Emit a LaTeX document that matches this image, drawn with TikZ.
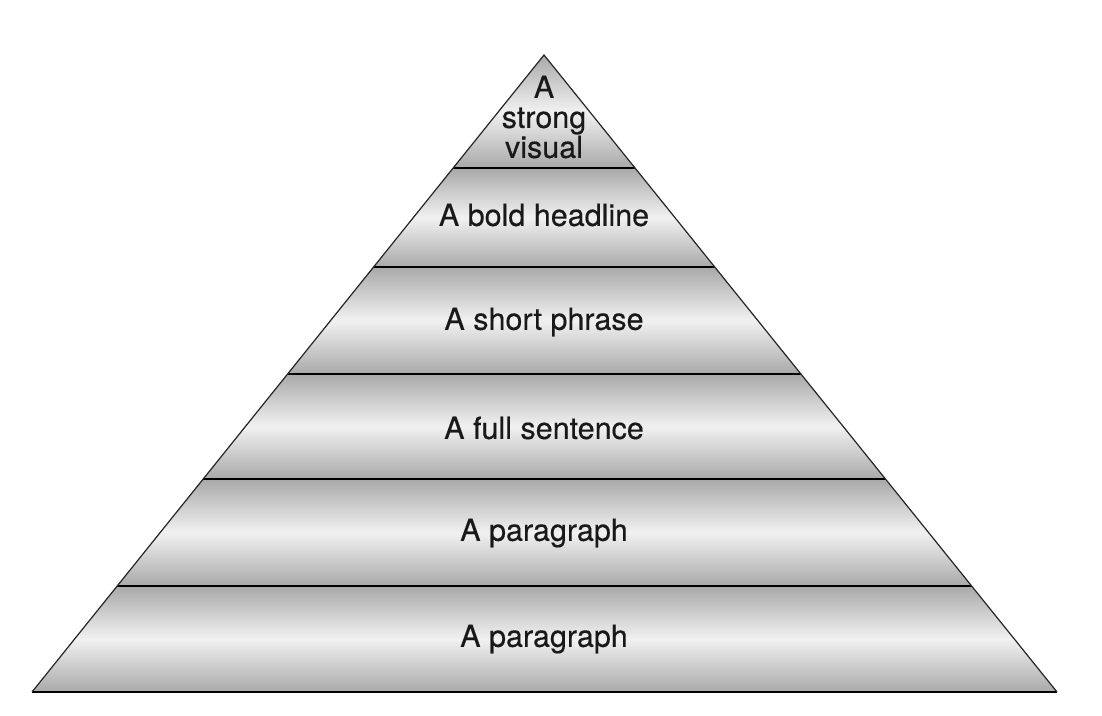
\documentclass[tikz,border=0pt]{standalone}
\usepackage{fontspec}
\setmainfont{TeX Gyre Heros}[FakeBold=0.35]
\usetikzlibrary{calc}
\definecolor{bandedge}{HTML}{A9A9A9}
\definecolor{bandmid}{HTML}{F1F1F1}
\tikzset{
  band/.style={top color=bandedge, bottom color=bandedge, middle color=bandmid, draw=none},
  sepline/.style={draw=black, line width=1.6pt},
  sideline/.style={draw=black!85, line width=1.2pt, line join=miter},
  lbl/.style={font=\fontsize{30.5}{31}\selectfont, text=black!90, align=center, inner sep=0pt}
}
\begin{document}
\begin{tikzpicture}[x=1pt,y=-1pt]
\useasboundingbox (0,0) rectangle (1102,715);
\coordinate (apex) at (544,55);
\coordinate (bl) at (32,692);
\coordinate (br) at (1057,692);
% band boundary points
\foreach \n/\t in {1/0.17739,2/0.33281,3/0.50078,4/0.66562,5/0.83359}{
  \coordinate (L\n) at ($(apex)!\t!(bl)$);
  \coordinate (R\n) at ($(apex)!\t!(br)$);
}
% shaded bands
\fill[band] (apex) -- (R1) -- (L1) -- cycle;
\fill[band] (L1) -- (R1) -- (R2) -- (L2) -- cycle;
\fill[band] (L2) -- (R2) -- (R3) -- (L3) -- cycle;
\fill[band] (L3) -- (R3) -- (R4) -- (L4) -- cycle;
\fill[band] (L4) -- (R4) -- (R5) -- (L5) -- cycle;
\fill[band] (L5) -- (R5) -- (br) -- (bl) -- cycle;
% separators
\foreach \n in {1,...,5}{ \draw[sepline] (L\n) -- (R\n); }
\draw[sepline] (bl) -- (br);
\draw[sideline] (bl) -- (apex) -- (br);
% labels
\node[lbl] (t1) at (544,117) {A\\[-1pt]strong\\[-1pt]visual};
\node[lbl] (t2) at (544,215) {A bold headline};
\node[lbl] (t3) at (544,322) {A short phrase};
\node[lbl] (t4) at (544,428) {A full sentence};
\node[lbl] (t5) at (544,533) {A paragraph};
\node[lbl] (t6) at (544,639) {A paragraph};
\end{tikzpicture}
\end{document}
